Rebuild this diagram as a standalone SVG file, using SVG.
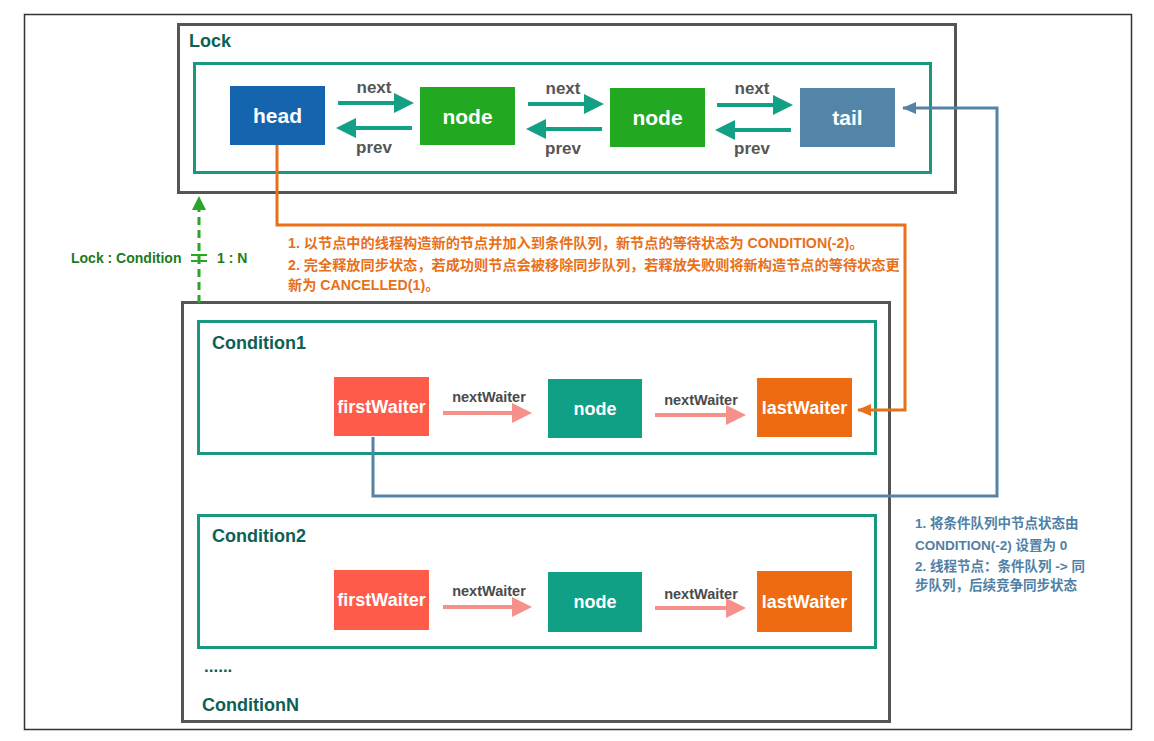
<svg xmlns="http://www.w3.org/2000/svg" width="1154" height="741" viewBox="0 0 1154 741">
<defs>
<style>
text{font-family:"Liberation Sans","Noto Sans CJK SC",Arial,sans-serif;font-weight:bold}
.frame{fill:none;stroke:#555;stroke-width:3}
.teal{fill:none;stroke:#17987F;stroke-width:3}
.ttl{fill:#0E5F55;font-size:18px}
.nt{fill:#fff;font-size:21px;text-anchor:middle}
.wt{fill:#fff;font-size:18px;text-anchor:middle}
.lbl{fill:#555;font-size:17px;text-anchor:middle}
.wl{fill:#4a4a4a;font-size:14.5px;text-anchor:middle}
.ta{stroke:#14A085;stroke-width:4;fill:none}
.sa{stroke:#F5918A;stroke-width:4;fill:none}
.ot{fill:#E8701A;font-size:14.2px}
.bt{fill:#4F80A5;font-size:13.5px}
</style>
<marker id="mt" markerWidth="5" markerHeight="5" refX="4" refY="2.5" orient="auto" markerUnits="strokeWidth"><path d="M0,0 L5,2.5 L0,5 z" fill="#14A085"/></marker>
<marker id="ms" markerWidth="5" markerHeight="5" refX="4" refY="2.5" orient="auto" markerUnits="strokeWidth"><path d="M0,0 L5,2.5 L0,5 z" fill="#F5918A"/></marker>
<marker id="mo" markerWidth="14" markerHeight="12" refX="13" refY="6" orient="auto" markerUnits="userSpaceOnUse"><path d="M0,0 L14,6 L0,12 z" fill="#E8701A"/></marker>
<marker id="mb" markerWidth="14" markerHeight="12" refX="13" refY="6" orient="auto" markerUnits="userSpaceOnUse"><path d="M0,0 L14,6 L0,12 z" fill="#5483A6"/></marker>
</defs>
<rect x="0" y="0" width="1154" height="741" fill="#fff"/>
<rect x="24.5" y="14.5" width="1107" height="715" fill="none" stroke="#333" stroke-width="1.5"/>

<g id="lock">
<rect class="frame" x="178.5" y="24.5" width="777" height="168"/>
<text class="ttl" x="189" y="47">Lock</text>
<rect class="teal" x="194.5" y="63.5" width="736" height="109"/>
</g>
<g id="head"><rect x="230" y="86" width="95" height="59" fill="#1565AE"/><text class="nt" x="277.5" y="123">head</text></g>
<g id="node1"><rect x="420" y="87" width="95" height="58" fill="#22A821"/><text class="nt" x="467.5" y="124">node</text></g>
<g id="node2"><rect x="610" y="88" width="95" height="59" fill="#22A821"/><text class="nt" x="657.5" y="125">node</text></g>
<g id="tail"><rect x="800" y="88" width="95" height="59" fill="#5285A8"/><text class="nt" x="847.5" y="125">tail</text></g>

<g id="conditions">
<rect class="frame" x="182.5" y="302.5" width="707" height="419"/>
<text style="fill:#0E5F55;font-size:17px" x="204" y="672">......</text>
<text class="ttl" x="202" y="711">ConditionN</text>
</g>
<g id="condition1">
<rect class="teal" x="198.5" y="321.5" width="677" height="132"/>
<text class="ttl" x="212" y="349">Condition1</text>
</g>
<g id="c1-first"><rect x="334" y="377" width="95" height="59" fill="#FE5B4B"/><text class="wt" x="381.5" y="413">firstWaiter</text></g>
<g id="c1-node"><rect x="548" y="379" width="94" height="59" fill="#0FA085"/><text class="wt" x="595" y="415">node</text></g>
<g id="c1-last"><rect x="757" y="378" width="95" height="59" fill="#EE6B12"/><text class="wt" x="804.5" y="414">lastWaiter</text></g>

<g id="condition2">
<rect class="teal" x="198.5" y="515.5" width="677" height="132"/>
<text class="ttl" x="212" y="542">Condition2</text>
</g>
<g id="c2-first"><rect x="334" y="570" width="95" height="60" fill="#FE5B4B"/><text class="wt" x="381.5" y="606">firstWaiter</text></g>
<g id="c2-node"><rect x="548" y="572" width="94" height="60" fill="#0FA085"/><text class="wt" x="595" y="608">node</text></g>
<g id="c2-last"><rect x="757" y="571" width="95" height="61" fill="#EE6B12"/><text class="wt" x="804.5" y="608">lastWaiter</text></g>

<g id="connectors">
<line class="ta" x1="338" y1="103" x2="410" y2="103" marker-end="url(#mt)"/>
<line class="ta" x1="412" y1="128" x2="340" y2="128" marker-end="url(#mt)"/>
<line class="ta" x1="528" y1="104" x2="600" y2="104" marker-end="url(#mt)"/>
<line class="ta" x1="602" y1="129" x2="530" y2="129" marker-end="url(#mt)"/>
<line class="ta" x1="717" y1="105" x2="789" y2="105" marker-end="url(#mt)"/>
<line class="ta" x1="791" y1="130" x2="719" y2="130" marker-end="url(#mt)"/>
<text class="lbl" x="374" y="93">next</text>
<text class="lbl" x="374" y="153">prev</text>
<text class="lbl" x="563" y="94">next</text>
<text class="lbl" x="563" y="154">prev</text>
<text class="lbl" x="752" y="94">next</text>
<text class="lbl" x="752" y="154">prev</text>

<line class="sa" x1="443" y1="413" x2="528" y2="413" marker-end="url(#ms)"/>
<line class="sa" x1="655" y1="415" x2="742" y2="415" marker-end="url(#ms)"/>
<text class="wl" x="489" y="402">nextWaiter</text>
<text class="wl" x="701" y="405">nextWaiter</text>
<line class="sa" x1="443" y1="607" x2="528" y2="607" marker-end="url(#ms)"/>
<line class="sa" x1="655" y1="608" x2="742" y2="608" marker-end="url(#ms)"/>
<text class="wl" x="489" y="596">nextWaiter</text>
<text class="wl" x="701" y="599">nextWaiter</text>

<polyline points="277,145 277,225 905,225 905,410 858,410" fill="none" stroke="#E8701A" stroke-width="3" marker-end="url(#mo)"/>
<polyline points="373,437 373,496 997,496 997,108 903,108" fill="none" stroke="#5483A6" stroke-width="3" marker-end="url(#mb)"/>

<line x1="199" y1="303" x2="199" y2="208" stroke="#2AA52A" stroke-width="3" stroke-dasharray="8,5"/>
<path d="M192,210 L199,196 L206,210 z" fill="#2AA52A"/>
<line x1="191" y1="255" x2="207" y2="255" stroke="#2AA52A" stroke-width="2"/>
<line x1="191" y1="261" x2="207" y2="261" stroke="#2AA52A" stroke-width="2"/>
<text x="71" y="263" style="fill:#1E7A1E;font-size:14px">Lock : Condition</text>
<text x="217" y="263" style="fill:#1E7A1E;font-size:14px">1 : N</text>

<text class="ot" x="288" y="248">1. 以节点中的线程构造新的节点并加入到条件队列，新节点的等待状态为 CONDITION(-2)。</text>
<text class="ot" x="288" y="270">2. 完全释放同步状态，若成功则节点会被移除同步队列，若释放失败则将新构造节点的等待状态更</text>
<text class="ot" x="288" y="290">新为 CANCELLED(1)。</text>

<text class="bt" x="915" y="528">1. 将条件队列中节点状态由</text>
<text class="bt" x="915" y="550">CONDITION(-2) 设置为 0</text>
<text class="bt" x="915" y="571">2. 线程节点：条件队列 -&gt; 同</text>
<text class="bt" x="915" y="590">步队列，后续竞争同步状态</text>
</g>
</svg>
